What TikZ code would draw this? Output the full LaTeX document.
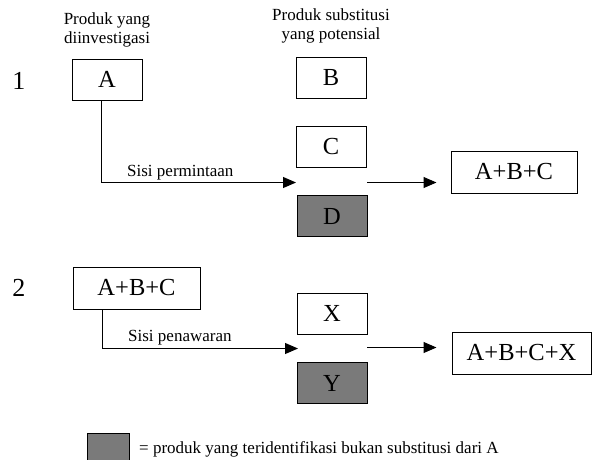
\documentclass[tikz,border=0pt]{standalone}
\usepackage{fontspec}
\setmainfont{Liberation Serif}
\usetikzlibrary{arrows.meta}
\definecolor{boxgray}{RGB}{122,122,122}

\begin{document}
\begin{tikzpicture}[x=1pt, y=-1pt,
    prod/.style={draw, line width=1pt, minimum width=70pt, minimum height=41pt, inner sep=0pt, font=\fontsize{24.5}{27}\selectfont},
    notsub/.style={prod, fill=boxgray},
    result/.style={prod, minimum height=42pt},
    head/.style={align=center, font=\fontsize{17}{19}\selectfont},
    side/.style={anchor=base west, inner sep=0pt, font=\fontsize{17}{19}\selectfont},
    num/.style={font=\fontsize{26}{28}\selectfont},
    flow/.style={line width=1pt, -{Triangle[length=13pt, width=11pt]}}]
    \useasboundingbox (0,0) rectangle (595,459);

    % Headings
    \node[head] (h1) at (107,30) {Produk yang\\diinvestigasi};
    \node[head] (h2) at (331,26) {Produk substitusi\\yang potensial};

    % Row numbers
    \node[num] (n1) at (19,81) {1};
    \node[num] (n2) at (19,288) {2};

    % Nodes, row 1
    \node[prod] (A) at (107,79.5) {A};
    \node[prod] (B) at (331,78) {B};
    \node[prod] (C) at (331,146.5) {C};
    \node[notsub] (D) at (332,216) {D};
    \node[result, minimum width=126pt] (ABC) at (514,172) {A+B+C};

    % Nodes, row 2
    \node[prod, minimum width=127pt, minimum height=42pt] (ABC2) at (136.5,288) {A+B+C};
    \node[prod] (X) at (332,313.5) {X};
    \node[notsub] (Y) at (332,383) {Y};
    \node[result, minimum width=139pt] (ABCX) at (521.5,353) {A+B+C+X};

    % Legend
    \node[notsub, minimum width=42pt, minimum height=27pt] (key) at (108,446.5) {};
    \node[side] (keytext) at (139,453) {= produk yang teridentifikasi bukan substitusi dari A};

    % Edge labels
    \node[side] (demand) at (127,176) {Sisi permintaan};
    \node[side] (supply) at (128,341) {Sisi penawaran};

    % Edge end points
    \coordinate (in1) at (296,182.5);
    \coordinate (out1) at (367,182.5);
    \coordinate (in2) at (298,348.5);
    \coordinate (out2) at (367,347.5);

    % Edges
    \draw[flow] ([xshift=-6pt]A.south) |- (in1);
    \draw[flow, shorten >=14pt] (out1) -- (out1 -| ABC.west);
    \draw[flow] ([xshift=-34.5pt]ABC2.south) |- (in2);
    \draw[flow, shorten >=15pt] (out2) -- (out2 -| ABCX.west);
\end{tikzpicture}
\end{document}
